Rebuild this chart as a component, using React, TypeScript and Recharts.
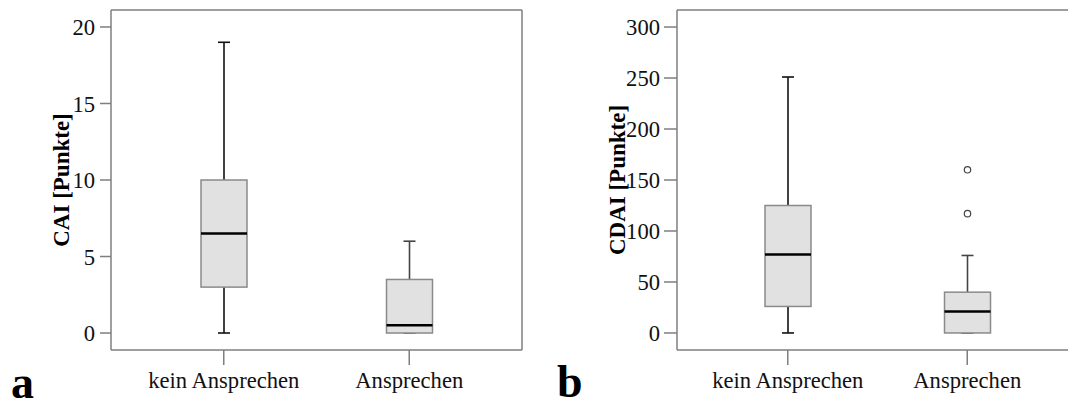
import React from "react"
import { ComposedChart, Bar, XAxis, YAxis, Label } from "recharts"

const CATEGORIES = ["kein Ansprechen", "Ansprechen"]

// CAI [Punkte]
const CAI_MIN = [0, 0]
const CAI_Q1 = [3, 0]
const CAI_MEDIAN = [6.5, 0.5]
const CAI_Q3 = [10, 3.5]
const CAI_MAX = [19, 6]
const CAI_OUTLIERS: number[][] = [[], []]
const CAI_TICKS = [0, 5, 10, 15, 20]

// CDAI [Punkte]
const CDAI_MIN = [0, 0]
const CDAI_Q1 = [26, 0]
const CDAI_MEDIAN = [77, 21]
const CDAI_Q3 = [125, 40]
const CDAI_MAX = [251, 76]
const CDAI_OUTLIERS: number[][] = [[], [117, 160]]
const CDAI_TICKS = [0, 50, 100, 150, 200, 250, 300]

const FONT = "Liberation Serif"
const FRAME = "#7f7f7f"
const WHISKER = ["#111", "#444"]

interface BoxRow {
  name: string
  min: number
  q1: number
  median: number
  q3: number
  max: number
  outliers: number[]
}

function buildRows(mins: number[], q1s: number[], meds: number[], q3s: number[], maxs: number[], outs: number[][]): BoxRow[] {
  return CATEGORIES.map((name, i) => ({
    name,
    min: mins[i],
    q1: q1s[i],
    median: meds[i],
    q3: q3s[i],
    max: maxs[i],
    outliers: outs[i],
  }))
}

const caiRows = buildRows(CAI_MIN, CAI_Q1, CAI_MEDIAN, CAI_Q3, CAI_MAX, CAI_OUTLIERS)
const cdaiRows = buildRows(CDAI_MIN, CDAI_Q1, CDAI_MEDIAN, CDAI_Q3, CDAI_MAX, CDAI_OUTLIERS)

// the bar spans min..max; everything else is placed with the same px/unit
function BoxShape(props: any) {
  const { x, y, width, height, payload, index } = props
  if (!payload || !height) return null
  const top = Math.min(y, y + height)
  const span = Math.abs(height)
  const k = span / (payload.max - payload.min)
  const at = (v: number) => top + (payload.max - v) * k
  const cx = x + width / 2
  const cap = 6
  const wc = WHISKER[index % WHISKER.length]
  return (
    <g>
      <line x1={cx} x2={cx} y1={at(payload.max)} y2={at(payload.q3)} stroke={wc} strokeWidth={1.6} />
      <line x1={cx} x2={cx} y1={at(payload.q1)} y2={at(payload.min)} stroke={wc} strokeWidth={1.6} />
      <line x1={cx - cap} x2={cx + cap} y1={at(payload.max)} y2={at(payload.max)} stroke={wc} strokeWidth={1.6} />
      <line x1={cx - cap} x2={cx + cap} y1={at(payload.min)} y2={at(payload.min)} stroke={wc} strokeWidth={1.6} />
      <rect
        x={x}
        y={at(payload.q3)}
        width={width}
        height={at(payload.q1) - at(payload.q3)}
        fill="#e1e1e1"
        stroke="#8a8a8a"
        strokeWidth={1.5}
      />
      <line x1={x} x2={x + width} y1={at(payload.median)} y2={at(payload.median)} stroke="#000" strokeWidth={2.5} />
      {payload.outliers.map((v: number, i: number) => (
        <circle key={i} cx={cx} cy={at(v)} r={3.2} fill="#fff" stroke="#444" strokeWidth={1.2} />
      ))}
    </g>
  )
}

function XTick({ x, y, payload }: any) {
  return (
    <text x={x} y={y} dy="0.71em" textAnchor="middle" fontFamily={FONT} fontSize={22.6} fill="#111">
      {payload.value}
    </text>
  )
}

function YTick({ x, y, payload }: any) {
  return (
    <text x={x} y={y} dy="0.355em" textAnchor="end" fontFamily={FONT} fontSize={22.6} fill="#111">
      {payload.value}
    </text>
  )
}

function AxisTitle({ viewBox, value, shift }: any) {
  const cx = viewBox.x + shift
  const cy = viewBox.y + viewBox.height / 2
  return (
    <text
      x={cx}
      y={cy}
      transform={`rotate(-90 ${cx} ${cy})`}
      textAnchor="middle"
      dominantBaseline="central"
      fontFamily={FONT}
      fontWeight="bold"
      fontSize={23}
      fill="#000"
    >
      {value}
    </text>
  )
}

function BoxPanel({ rows, domain, ticks, title, width, yWidth, marginRight, padding, titleShift, yTickSize, yTickMargin }: any) {
  return (
    <ComposedChart width={width} height={403} data={rows} margin={{ top: 9, right: marginRight, bottom: 0, left: 0 }}>
      <XAxis
        dataKey="name"
        type="category"
        padding={{ left: padding, right: padding }}
        height={53}
        tickSize={15}
        tickMargin={7}
        tick={<XTick />}
        axisLine={{ stroke: FRAME, strokeWidth: 1.5 }}
        tickLine={{ stroke: FRAME, strokeWidth: 1.5 }}
      />
      <XAxis xAxisId="top" orientation="top" dataKey="name" height={1} tick={false} tickLine={false} axisLine={{ stroke: FRAME, strokeWidth: 1.5 }} />
      <YAxis
        type="number"
        domain={domain}
        ticks={ticks}
        allowDataOverflow
        width={yWidth}
        tickSize={yTickSize}
        tickMargin={yTickMargin}
        tick={<YTick />}
        axisLine={{ stroke: FRAME, strokeWidth: 1.5 }}
        tickLine={{ stroke: FRAME, strokeWidth: 1.5 }}
      >
        <Label content={(p: any) => <AxisTitle {...p} value={title} shift={titleShift} />} />
      </YAxis>
      <YAxis yAxisId="r" orientation="right" type="number" domain={domain} allowDataOverflow width={1} tick={false} tickLine={false} axisLine={{ stroke: FRAME, strokeWidth: 1.5 }} />
      <Bar dataKey={(d: BoxRow) => [d.min, d.max]} barSize={46} fill="none" shape={BoxShape} isAnimationActive={false} />
    </ComposedChart>
  )
}

export default function App() {
  return (
    <div style={{ position: "absolute", left: 0, top: 0, width: 1068, height: 403, overflow: "hidden", background: "#fff", fontFamily: FONT }}>
      <div style={{ position: "absolute", left: 0, top: 0 }}>
        <BoxPanel
          rows={caiRows}
          domain={[-1.11, 21.11]}
          ticks={CAI_TICKS}
          title="CAI [Punkte]"
          width={540}
          yWidth={111}
          marginRight={17}
          padding={20}
          titleShift={61}
          yTickSize={11}
          yTickMargin={5}
        />
      </div>
      <div style={{ position: "absolute", left: 540, top: 0 }}>
        <BoxPanel
          rows={cdaiRows}
          domain={[-16.7, 316.7]}
          ticks={CDAI_TICKS}
          title="CDAI [Punkte]"
          width={560}
          yWidth={137}
          marginRight={21}
          padding={21}
          titleShift={77}
          yTickSize={13}
          yTickMargin={4}
        />
      </div>
      <svg width={1068} height={403} style={{ position: "absolute", left: 0, top: 0, pointerEvents: "none" }}>
        <text x={11} y={398} fontFamily={FONT} fontWeight="bold" fontSize={46} fill="#000">a</text>
        <text x={557} y={397} fontFamily={FONT} fontWeight="bold" fontSize={46} fill="#000">b</text>
      </svg>
    </div>
  )
}
